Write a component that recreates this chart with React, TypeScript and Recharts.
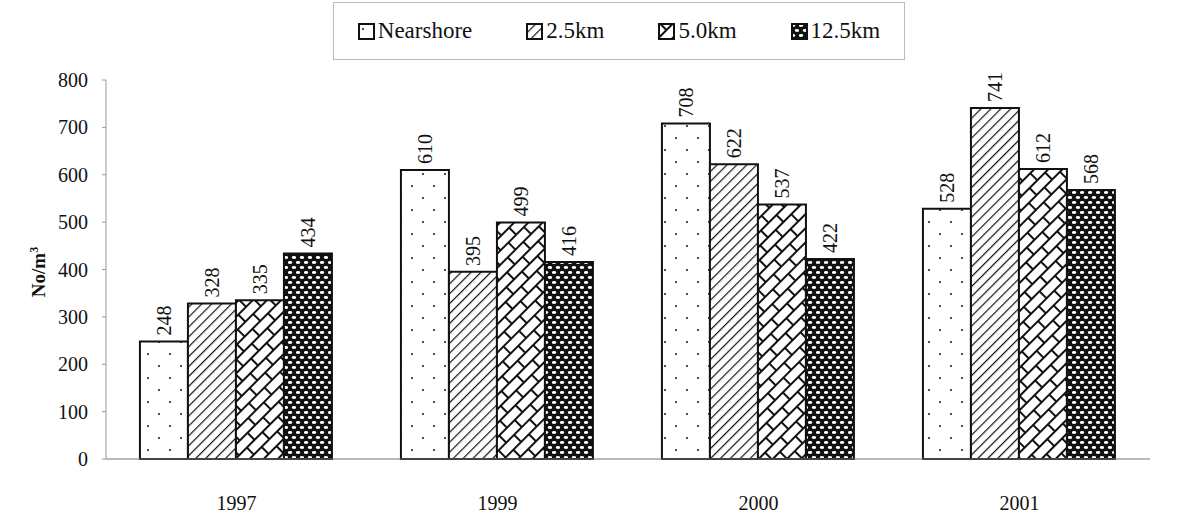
import React from 'react';
import { BarChart, Bar, XAxis, YAxis, LabelList } from 'recharts';

const years = ['1997', '1999', '2000', '2001'];
const nearshore = [248, 610, 708, 528];
const km25 = [328, 395, 622, 741];
const km50 = [335, 499, 537, 612];
const km125 = [434, 416, 422, 568];
const yTicks = [0, 100, 200, 300, 400, 500, 600, 700, 800];
const seriesNames = ['Nearshore', '2.5km', '5.0km', '12.5km'];
const seriesKeys = ['near', 'k25', 'k50', 'k125'];
const patternIds = ['patDots', 'patDiag', 'patBrick', 'patOval'];

const data = years.map((y, i) => ({
  year: y,
  near: nearshore[i],
  k25: km25[i],
  k50: km50[i],
  k125: km125[i],
}));

const FONT = '"Liberation Serif", "Times New Roman", serif';

const Patterns = () => (
  <svg width="0" height="0" style={{ position: 'absolute' }}>
    <defs>
      <pattern id="patDots" width="22" height="24" patternUnits="userSpaceOnUse">
        <rect width="22" height="24" fill="#fff" />
        <circle cx="5" cy="6" r="1.1" fill="#222" />
        <circle cx="16" cy="18" r="1.1" fill="#222" />
      </pattern>
      <pattern id="patDiag" width="7" height="7" patternUnits="userSpaceOnUse" patternTransform="rotate(45)">
        <rect width="7" height="7" fill="#fff" />
        <line x1="0" y1="0" x2="0" y2="7" stroke="#111" strokeWidth="2.4" />
      </pattern>
      <pattern id="patBrick" width="22" height="20" patternUnits="userSpaceOnUse" patternTransform="rotate(-45)">
        <rect width="22" height="20" fill="#fff" />
        <line x1="0" y1="1" x2="22" y2="1" stroke="#111" strokeWidth="2" />
        <line x1="0" y1="11" x2="22" y2="11" stroke="#111" strokeWidth="2" />
        <line x1="1" y1="0" x2="1" y2="11" stroke="#111" strokeWidth="2" />
        <line x1="12" y1="11" x2="12" y2="20" stroke="#111" strokeWidth="2" />
      </pattern>
      <pattern id="patOval" width="8" height="10" patternUnits="userSpaceOnUse">
        <rect width="8" height="10" fill="#111" />
        <ellipse cx="2" cy="2.5" rx="2.3" ry="1.4" fill="#fff" />
        <ellipse cx="6" cy="7.5" rx="2.3" ry="1.4" fill="#fff" />
      </pattern>
    </defs>
  </svg>
);

const LegendBox = () => (
  <div
    style={{
      position: 'absolute',
      left: 333,
      top: 2,
      width: 572,
      height: 58,
      boxSizing: 'border-box',
      border: '1px solid #bbb',
      display: 'flex',
      alignItems: 'center',
      justifyContent: 'center',
      gap: 54,
      fontFamily: FONT,
      fontSize: 23,
      color: '#111',
      background: '#fff',
      zIndex: 2,
    }}
  >
    {seriesNames.map((n, i) => (
      <span key={n} style={{ display: 'flex', alignItems: 'center' }}>
        <svg width="17" height="17" style={{ marginRight: 3 }}>
          <rect x="1" y="1" width="15" height="15" fill={`url(#${patternIds[i]})`} stroke="#111" strokeWidth="2" />
        </svg>
        {n}
      </span>
    ))}
  </div>
);

const ValueLabel = (props: any) => {
  const { x, y, width, value } = props;
  const cx = x + width / 2;
  const ty = y - 6;
  return (
    <text
      x={cx}
      y={ty}
      transform={`rotate(-90 ${cx} ${ty})`}
      textAnchor="start"
      dominantBaseline="central"
      fontFamily={FONT}
      fontSize={20}
      fill="#111"
    >
      {value}
    </text>
  );
};

const YLabel = () => (
  <text
    x={0}
    y={0}
    transform="translate(45 272) rotate(-90)"
    textAnchor="middle"
    fontFamily={FONT}
    fontSize={19}
    fontWeight="bold"
    fill="#111"
  >
    No/m<tspan baseline-shift="super" fontSize={12}>3</tspan>
  </text>
);

export default function App() {
  return (
    <div style={{ position: 'absolute', left: 0, top: 0, width: 1177, height: 514, background: '#fff' }}>
      <Patterns />
      <LegendBox />
      <BarChart
        width={1177}
        height={514}
        data={data}
        margin={{ top: 80, right: 27, bottom: 0, left: 0 }}
        barCategoryGap="13%"
        barGap={0}
      >
        <XAxis
          dataKey="year"
          height={55}
          tickLine={false}
          tickSize={0}
          tickMargin={37}
          axisLine={{ stroke: '#777', strokeWidth: 1.2 }}
          tick={{ fontFamily: FONT, fontSize: 20, fill: '#111' }}
        />
        <YAxis
          width={106}
          domain={[0, 800]}
          ticks={yTicks}
          interval={0}
          tickSize={4}
          tickMargin={14}
          axisLine={{ stroke: '#999', strokeWidth: 1 }}
          tickLine={{ stroke: '#999' }}
          tick={{ fontFamily: FONT, fontSize: 20, fill: '#111' }}
          label={<YLabel />}
        />
        {seriesKeys.map((k, i) => (
          <Bar
            key={k}
            dataKey={k}
            name={seriesNames[i]}
            fill={`url(#${patternIds[i]})`}
            stroke="#111"
            strokeWidth={2}
            isAnimationActive={false}
          >
            <LabelList dataKey={k} content={<ValueLabel />} />
          </Bar>
        ))}
      </BarChart>
    </div>
  );
}
